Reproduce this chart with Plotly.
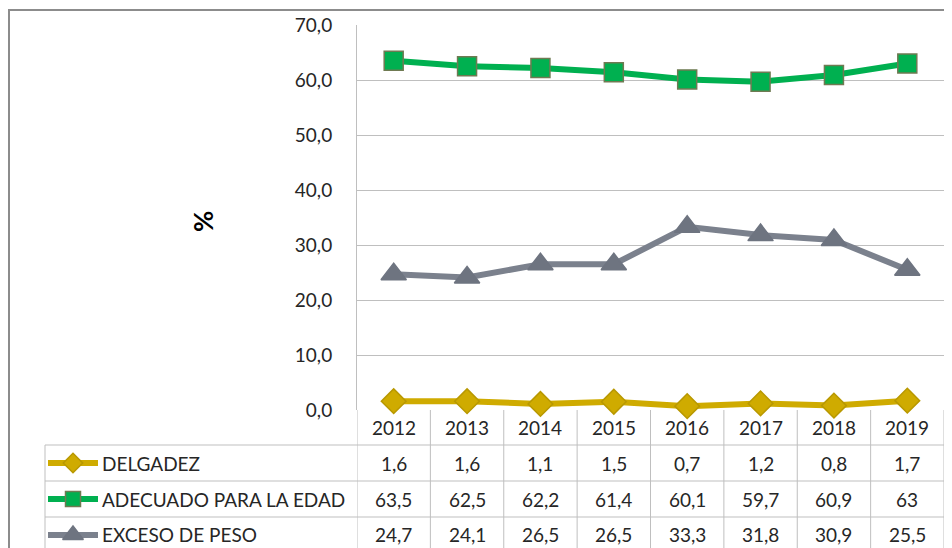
import plotly.graph_objects as go

years = ["2012", "2013", "2014", "2015", "2016", "2017", "2018", "2019"]
delgadez = [1.6, 1.6, 1.1, 1.5, 0.7, 1.2, 0.8, 1.7]
adecuado = [63.5, 62.5, 62.2, 61.4, 60.1, 59.7, 60.9, 63]
exceso = [24.7, 24.1, 26.5, 26.5, 33.3, 31.8, 30.9, 25.5]
series_names = ["DELGADEZ", "ADECUADO PARA LA EDAD", "EXCESO DE PESO"]
y_ticks = [0, 10, 20, 30, 40, 50, 60, 70]

W, H = 952, 548
OFF = 8  # page body margin offset
FONT = "Lato"
TXT = "#262626"
GRID = "#bfbfbf"

styles = [
    dict(line="#cfab00", marker="#cfab00", mline="#b89800", symbol="diamond", size=19),
    dict(line="#00b050", marker="#00b050", mline="#6f7a52", symbol="square", size=19),
    dict(line="#7b818d", marker="#6e7480", mline="#6e7480", symbol="triangle-up", size=22),
]
data = [delgadez, adecuado, exceso]

def px_x(p):
    return (p - OFF) / W

def px_y(p):
    return 1 - (p - OFF) / H

x_idx = list(range(len(years)))
fig = go.Figure()

plot_l, plot_r, plot_t, plot_b = 357, 944, 25, 410
row_edges = [410, 445, 481, 517, 553]

# legend keys on a full-page pixel axis
for r, st in enumerate(styles):
    yc = (row_edges[r + 1] + row_edges[r + 2]) / 2
    fig.add_trace(go.Scatter(x=[48, 98], y=[yc, yc], mode="lines", xaxis="x2", yaxis="y2",
                             line=dict(color=st["line"], width=6), showlegend=False, hoverinfo="skip"))
    fig.add_trace(go.Scatter(x=[73], y=[yc], mode="markers", xaxis="x2", yaxis="y2",
                             marker=dict(symbol=st["symbol"], size=st["size"] - 4, color=st["marker"],
                                         line=dict(color=st["mline"], width=1.5)),
                             showlegend=False, hoverinfo="skip"))

for name, vals, st in zip(series_names, data, styles):
    fig.add_trace(go.Scatter(
        x=x_idx, y=vals, name=name, mode="lines+markers",
        line=dict(color=st["line"], width=6),
        marker=dict(symbol=st["symbol"], size=st["size"], color=st["marker"],
                    line=dict(color=st["mline"], width=1.5)),
        showlegend=False, cliponaxis=False,
    ))

shapes = []
annotations = []
shapes.append(dict(type="rect", xref="paper", yref="paper",
                   x0=px_x(9), x1=px_x(990), y0=px_y(10), y1=px_y(600),
                   line=dict(color="#8c8c8c", width=2), layer="below"))
for i in range(len(years) + 1):
    shapes.append(dict(type="line", xref="x", yref="paper",
                       x0=i - 0.5, x1=i - 0.5, y0=px_y(plot_b), y1=px_y(H + 20),
                       line=dict(color=GRID, width=1)))
shapes.append(dict(type="line", xref="paper", yref="paper",
                   x0=px_x(45), x1=px_x(45), y0=px_y(445), y1=px_y(H + 20),
                   line=dict(color=GRID, width=1)))
for r in row_edges[1:]:
    shapes.append(dict(type="line", xref="paper", yref="paper",
                       x0=px_x(45), x1=px_x(plot_r), y0=px_y(r), y1=px_y(r),
                       line=dict(color=GRID, width=1)))

def fmt(v):
    return f"{v:g}".replace(".", ",")

FS = 19
for i, yr in enumerate(years):
    annotations.append(dict(x=i, y=px_y((row_edges[0] + row_edges[1]) / 2), xref="x", yref="paper",
                            xanchor="center", yanchor="middle",
                            text=yr, showarrow=False, font=dict(family=FONT, size=FS, color=TXT)))
for r, (name, vals) in enumerate(zip(series_names, data)):
    yc = (row_edges[r + 1] + row_edges[r + 2]) / 2 - (1 if r == 2 else 0)
    for i, v in enumerate(vals):
        annotations.append(dict(x=i, y=px_y(yc), xref="x", yref="paper",
                                xanchor="center", yanchor="middle",
                                text=fmt(v), showarrow=False,
                                font=dict(family=FONT, size=FS, color=TXT)))
    annotations.append(dict(x=px_x(100), y=px_y(yc), xref="paper", yref="paper",
                            xanchor="left", yanchor="middle", text=name, showarrow=False,
                            font=dict(family=FONT, size=FS, color=TXT)))

annotations.append(dict(x=px_x(203), y=px_y(222), xref="paper", yref="paper",
                        xanchor="center", yanchor="middle",
                        text="<b>%</b>", textangle=-90, showarrow=False,
                        font=dict(family=FONT, size=26, color="#000000")))

fig.update_layout(
    width=W, height=H,
    margin=dict(l=0, r=0, t=0, b=0, pad=0, autoexpand=False),
    paper_bgcolor="white", plot_bgcolor="rgba(0,0,0,0)",
    separators=",.",
    showlegend=False,
    shapes=shapes, annotations=annotations,
    xaxis=dict(domain=[px_x(plot_l), min(1, px_x(plot_r))], range=[-0.5, len(years) - 0.5],
               showticklabels=False, showgrid=False, zeroline=False, showline=False,
               fixedrange=True, anchor="y", automargin=False),
    yaxis=dict(domain=[px_y(plot_b), px_y(plot_t)], range=[0, 70], tickvals=y_ticks,
               tickformat=".1f", showgrid=True, gridcolor=GRID, gridwidth=1,
               zeroline=False, showline=True, linecolor=GRID, linewidth=1,
               ticks="", ticklabelstandoff=20, anchor="x", automargin=False,
               tickfont=dict(family=FONT, size=FS, color=TXT)),
    xaxis2=dict(domain=[0, 1], range=[OFF, W + OFF], visible=False, anchor="y2", automargin=False),
    yaxis2=dict(domain=[0, 1], range=[H + OFF, OFF], visible=False, anchor="x2", automargin=False),
)

fig.write_html("out.html")
